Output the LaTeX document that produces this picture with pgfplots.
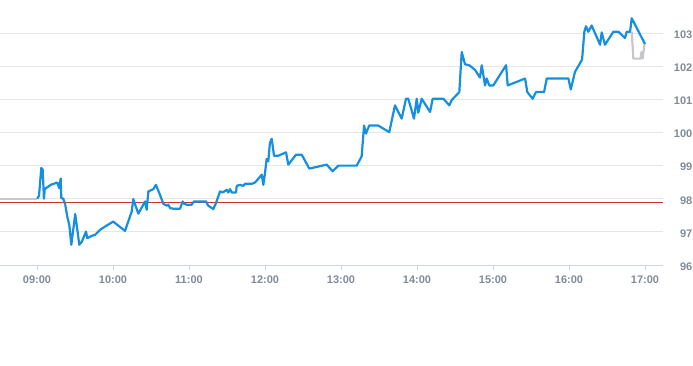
\documentclass[border=0pt]{standalone}
\usepackage{pgfplots}
\pgfplotsset{compat=1.18}
\usepackage{fontspec}
\setmainfont{Liberation Sans}
\definecolor{lineblue}{RGB}{22,143,222}
\definecolor{prevgray}{RGB}{196,200,205}
\definecolor{refred}{RGB}{205,50,50}
\definecolor{gridc}{RGB}{230,230,230}
\definecolor{axisc}{RGB}{204,214,235}
\definecolor{labc}{RGB}{128,138,152}
\begin{document}
\begin{tikzpicture}
\path[use as bounding box] (0,0) rectangle (693pt,365pt);
\begin{axis}[
  at={(0pt,100pt)}, anchor=south west,
  width=663pt, height=265pt, scale only axis,
  xmin=-29.2, xmax=494.2, ymin=96, ymax=104,
  separate axis lines,
  axis x line*=bottom, axis y line*=right,
  x axis line style={draw=axisc, line width=0.8pt, -},
  y axis line style={draw=none},
  xtick={0,60,120,180,240,300,360,420,480},
  xticklabels={09:00,10:00,11:00,12:00,13:00,14:00,15:00,16:00,17:00},
  ytick={96,97,98,99,100,101,102,103},
  tick align=outside,
  xtick style={draw=axisc, line width=0.8pt},
  major tick length=5pt,
  ytick style={draw=none},
  ymajorgrids, grid style={draw=gridc, line width=0.8pt},
  tick label style={font=\fontsize{11}{13}\selectfont\bfseries, text=labc},
  x tick label style={yshift=-2.5pt},
  y tick label style={anchor=east, inner sep=0pt, xshift=24.5pt, yshift=-1.5pt},
  /pgf/number format/assume math mode=true,
  clip=false,
]
% reference line
\addplot[refred, line width=1pt] coordinates {(-29.2,97.9) (494.2,97.9)};
% gray segments
\addplot[prevgray, line width=2.2pt, line join=round] coordinates {(-29.2,98.0) (0.2,98.0)};
\addplot[prevgray, line width=2.2pt, line join=round] coordinates {
(469.5,103.04) (470.8,102.23) (476.4,102.23) (477.2,102.43) (478.1,102.23) (479.6,102.67)};
% main series
\addplot[lineblue, line width=2.2pt, line join=round] coordinates {
(0.2,98.00) (1.6,98.09) (3.4,98.93) (4.5,98.88) (5.5,98.00) (6.1,98.29)
(10.8,98.42) (16.0,98.49) (17.6,98.32) (18.7,98.61) (19.2,98.02) (20.8,98.00)
(22.3,97.82) (23.9,97.46) (25.5,97.21) (27.1,96.61) (30.2,97.54) (33.4,96.61)
(35.5,96.71) (38.7,97.01) (39.7,96.81) (43.2,96.88) (45.8,96.91) (49.7,97.06)
(53.7,97.16) (60.2,97.31) (69.5,97.03) (74.8,97.62) (76.0,97.99) (80.0,97.55)
(85.3,97.92) (86.6,97.67) (87.9,98.22) (91.8,98.29) (93.9,98.42) (97.1,98.12)
(99.7,97.85) (102.4,97.79) (103.7,97.82) (105.0,97.72) (107.6,97.70) (112.9,97.70)
(115.0,97.92) (116.1,97.85) (118.2,97.82) (122.1,97.82) (123.9,97.92) (133.4,97.92)
(135.2,97.79) (139.2,97.69) (141.3,97.87) (144.5,98.22) (146.6,98.19) (149.8,98.27)
(151.0,98.19) (152.4,98.29) (153.7,98.19) (157.1,98.19) (157.7,98.39) (160.3,98.42)
(162.9,98.39) (164.2,98.45) (169.5,98.45) (172.1,98.49) (174.7,98.60) (177.4,98.73)
(178.7,98.42) (180.0,98.78) (181.3,99.20) (182.6,99.13) (183.9,99.69) (185.3,99.81)
(187.1,99.30) (190.5,99.30) (196.6,99.40) (198.4,99.03) (204.5,99.33) (209.0,99.33)
(215.0,98.91) (228.7,99.03) (233.4,98.83) (237.9,99.00) (252.4,99.00) (256.3,99.28)
(258.2,100.21) (259.7,99.97) (262.3,100.21) (269.4,100.21) (278.1,100.01) (282.6,100.82)
(287.9,100.42) (291.3,101.02) (293.1,101.02) (297.6,100.42) (299.8,101.02) (301.0,100.60)
(303.7,101.02) (310.3,100.62) (312.4,101.02) (320.8,101.02) (325.5,100.82) (327.4,100.98)
(333.4,101.22) (335.3,102.43) (337.9,102.06) (341.3,102.03) (345.8,101.89) (349.7,101.66)
(351.1,102.03) (353.7,101.42) (355.0,101.63) (357.1,101.42) (360.2,101.42) (370.3,102.03)
(371.6,101.42) (385.3,101.63) (387.1,101.22) (391.3,101.02) (393.9,101.22) (400.3,101.22)
(402.4,101.63) (419.5,101.63) (421.4,101.30) (424.7,101.83) (430.3,102.20) (432.1,103.04)
(433.4,103.21) (435.2,103.04) (437.9,103.23) (444.5,102.65) (445.8,103.02) (448.4,102.65)
(455.0,103.04) (459.1,103.04) (464.2,102.85) (465.5,103.04) (468.2,103.04) (469.5,103.45)
(480.0,102.67)};
\end{axis}
\end{tikzpicture}
\end{document}
